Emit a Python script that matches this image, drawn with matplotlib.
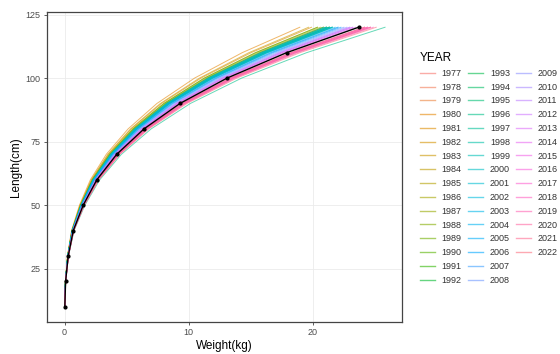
import matplotlib
matplotlib.use("Agg")
import matplotlib.pyplot as plt
import numpy as np
from matplotlib.lines import Line2D

plt.rcParams["font.family"] = ["Liberation Sans", "DejaVu Sans"]

# reference length-weight points (black line)
lengths = [10, 20, 30, 40, 50, 60, 70, 80, 90, 100, 110, 120]
ref_weight = [0.017, 0.08, 0.29, 0.7, 1.5, 2.6, 4.2, 6.4, 9.3, 13.1, 17.9, 23.7]

years = list(range(1977, 2023))
# weight of each year relative to the reference curve (read at 120 cm)
year_factor = [
    1.03, 1.04, 1.02, 0.80, 0.84, 0.88, 0.83, 0.86, 0.89, 0.87, 0.90, 0.88,
    0.89, 0.86, 0.90, 0.91, 0.89, 0.90, 0.91, 1.09, 0.88, 0.90, 0.91, 0.89,
    0.90, 0.92, 0.89, 0.91, 0.93, 0.94, 0.93, 0.95, 0.96, 0.97, 0.98, 0.97,
    0.99, 0.98, 1.02, 1.03, 1.04, 1.05, 1.03, 1.04, 1.02, 1.06,
]


def hue_colors(n, l=65, c=100):
    hues = np.linspace(15, 375, n + 1)[:-1]
    Xn, Yn, Zn = 95.047, 100.0, 108.883
    un = 4 * Xn / (Xn + 15 * Yn + 3 * Zn)
    vn = 9 * Yn / (Xn + 15 * Yn + 3 * Zn)
    m = np.array([[3.2406, -1.5372, -0.4986],
                  [-0.9689, 1.8758, 0.0415],
                  [0.0557, -0.2040, 1.0570]])
    out = []
    for h in hues:
        u = c * np.cos(np.radians(h))
        v = c * np.sin(np.radians(h))
        Y = Yn * ((l + 16) / 116) ** 3
        up = u / (13 * l) + un
        vp = v / (13 * l) + vn
        X = Y * 9 * up / (4 * vp)
        Z = Y * (12 - 3 * up - 20 * vp) / (4 * vp)
        rgb = m @ (np.array([X, Y, Z]) / 100)
        rgb = np.clip(rgb, 0, 1)
        rgb = np.where(rgb <= 0.0031308, 12.92 * rgb, 1.055 * rgb ** (1 / 2.4) - 0.055)
        out.append(tuple(float(x) for x in np.clip(rgb, 0, 1)))
    return out


colors = hue_colors(len(years))

fig = plt.figure(figsize=(5.6, 3.54), dpi=100)
ax = fig.add_axes([47 / 560, 32 / 354, 355 / 560, 310 / 354])

handles = []
ref = np.array(ref_weight)
for yr, f, col in zip(years, year_factor, colors):
    ax.plot(ref * f, lengths, color=col, lw=0.7, alpha=0.6)
    handles.append(Line2D([], [], color=col, lw=1.0, alpha=0.6, label=str(yr)))

ax.plot(ref_weight, lengths, color="black", lw=1.0, marker="o", ms=2)

ax.set_xlim(-1.42, 27.2)
ax.set_ylim(4.0, 126.0)
ax.set_xticks([0, 10, 20])
ax.set_yticks([25, 50, 75, 100, 125])
ax.grid(True, color="#EBEBEB", lw=0.6)
ax.set_axisbelow(True)
for s in ax.spines.values():
    s.set_color("#444444")
    s.set_linewidth(0.9)
ax.tick_params(length=2.5, width=0.6, color="#444444", labelsize=6.5, labelcolor="#4D4D4D", pad=2)
ax.set_xlabel("Weight(kg)", fontsize=8.5, labelpad=2)
ax.set_ylabel("Length(cm)", fontsize=8.5, labelpad=3)

# two blank slots so columns fill 16/16/14 like the original
for _ in range(2):
    handles.append(Line2D([], [], color="none", label=""))

leg = fig.legend(handles=handles, ncol=3, loc="upper left", bbox_to_anchor=(412 / 560, 1 - 44 / 354),
                 frameon=False, title="YEAR", fontsize=6.5, title_fontsize=8.5,
                 handlelength=1.6, handletextpad=0.8, columnspacing=0.7, labelspacing=0.53,
                 alignment="left")
for t in leg.get_texts():
    t.set_color("#333333")

fig.savefig("out.png", dpi=100)
